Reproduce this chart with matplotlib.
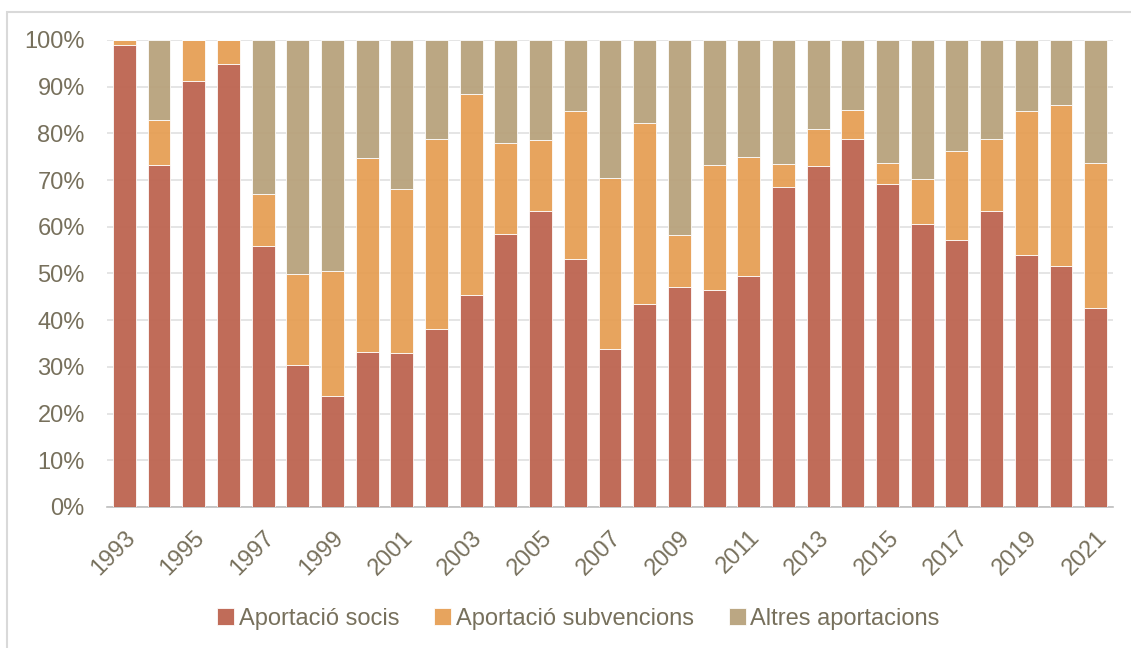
import matplotlib.pyplot as plt
import numpy as np
from matplotlib.patches import Rectangle

plt.rcParams['font.family'] = ['Liberation Sans', 'DejaVu Sans']

years = list(range(1993, 2022))
# percentages
socis = [99.0, 73.2, 91.3, 94.8, 55.9, 30.5, 23.8, 33.2, 33.0, 38.2,
         45.5, 58.5, 63.3, 53.0, 33.8, 43.4, 47.0, 46.5, 49.5, 68.6,
         73.1, 78.7, 69.2, 60.6, 57.2, 63.4, 54.0, 51.7, 42.7]
subv_top = [100.0, 82.9, 100.0, 100.0, 67.0, 49.9, 50.5, 74.8, 68.1, 78.9,
            88.4, 78.0, 78.6, 84.9, 70.4, 82.2, 58.2, 73.2, 75.0, 73.4,
            81.0, 85.1, 73.6, 70.3, 76.2, 78.9, 84.7, 86.1, 73.6]
subvencions = [t - s for t, s in zip(subv_top, socis)]
altres = [100 - t for t in subv_top]

c_socis = '#BD6450'
c_subv = '#E69F55'
c_altres = '#B8A27C'
txt = '#77705C'

fig = plt.figure(figsize=(11.31, 6.48), dpi=100)
fig.patches.append(Rectangle((7/1131, -0.1), 1.2, 1 - 12/648 + 0.1, transform=fig.transFigure,
                             fill=False, edgecolor='#D9D9D9', linewidth=1.5))
ax = fig.add_axes([0.0946, 0.2176, 0.8895, 0.7207])

x = np.arange(len(years))
w = 0.66
kw = dict(width=w, alpha=0.95, edgecolor=(1, 1, 1, 0.5), linewidth=0.6, zorder=3)
ax.bar(x, socis, color=c_socis, label='Aportació socis', **kw)
ax.bar(x, subvencions, bottom=socis, color=c_subv, label='Aportació subvencions', **kw)
ax.bar(x, altres, bottom=subv_top, color=c_altres, label='Altres aportacions', **kw)

ax.set_xlim(-0.5, len(years) - 0.5)
ax.set_ylim(0, 100)
ax.set_yticks(range(0, 101, 10))
ax.set_yticklabels([f'{v}%' for v in range(0, 101, 10)])
ax.set_xticks(x[::2])
ax.set_xticklabels([str(y) for y in years[::2]], rotation=45, ha='right',
                   rotation_mode='anchor')
ax.tick_params(axis='both', length=0, colors=txt, labelsize=17)
ax.tick_params(axis='y', pad=16)
ax.tick_params(axis='x', pad=14)

ax.grid(axis='y', color='#E0E0E0', linewidth=1.2, zorder=0)
ax.set_axisbelow(True)
for s in ['top', 'right', 'left']:
    ax.spines[s].set_visible(False)
ax.spines['bottom'].set_color('#BFBFBF')
ax.spines['bottom'].set_linewidth(1.2)

leg = fig.legend(loc='center', bbox_to_anchor=(0.5115, 0.045), ncol=3, frameon=False,
                 fontsize=17, handlelength=0.7, handleheight=0.7, handletextpad=0.2,
                 columnspacing=1.5)
for t in leg.get_texts():
    t.set_color(txt)

fig.savefig('out.png', dpi=100)
